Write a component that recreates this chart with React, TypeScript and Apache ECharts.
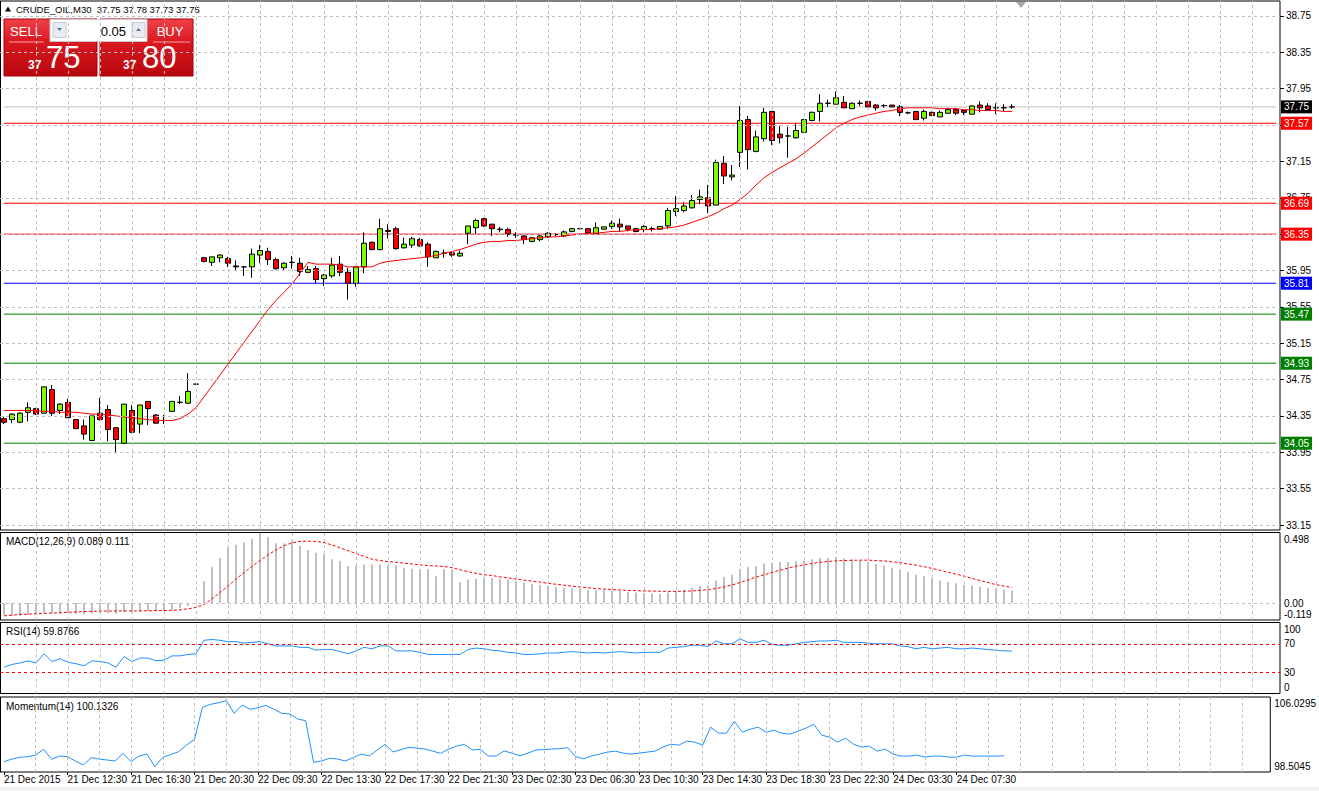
import React, { useEffect, useRef } from "react";
import * as echarts from "echarts";

const SYMBOL = "CRUDE_OIL,M30";
const LOT = "0.05";
const SELL_PRICE = 37.75;
const BUY_PRICE = 37.8;

const TICK_LABELS = [
  "21 Dec 2015", "21 Dec 12:30", "21 Dec 16:30", "21 Dec 20:30", "22 Dec 09:30", "22 Dec 13:30",
  "22 Dec 17:30", "22 Dec 21:30", "23 Dec 02:30", "23 Dec 06:30", "23 Dec 10:30", "23 Dec 14:30",
  "23 Dec 18:30", "23 Dec 22:30", "24 Dec 03:30", "24 Dec 07:30",
];

// [open, close, low, high]
const CANDLES: number[][] = [
  [34.32, 34.28, 34.26, 34.34], [34.31, 34.37, 34.27, 34.38], [34.28, 34.38, 34.27, 34.39], [34.39, 34.44, 34.29, 34.5],
  [34.43, 34.37, 34.36, 34.44], [34.38, 34.67, 34.38, 34.67], [34.64, 34.38, 34.35, 34.69], [34.41, 34.48, 34.37, 34.49],
  [34.5, 34.33, 34.33, 34.54], [34.31, 34.21, 34.21, 34.31], [34.24, 34.15, 34.09, 34.31], [34.08, 34.35, 34.08, 34.35],
  [34.38, 34.31, 34.3, 34.55], [34.42, 34.2, 34.07, 34.47], [34.22, 34.09, 33.94, 34.22], [34.05, 34.48, 34.04, 34.48],
  [34.41, 34.17, 34.16, 34.47], [34.26, 34.47, 34.16, 34.47], [34.51, 34.43, 34.25, 34.51], [34.36, 34.27, 34.27, 34.37],
  [34.3, 34.3, 34.26, 34.36], [34.4, 34.51, 34.4, 34.51], [34.5, 34.5, 34.48, 34.57], [34.49, 34.62, 34.48, 34.82],
  [34.7, 34.7, 34.7, 34.7], [36.09, 36.05, 36.04, 36.1], [36.04, 36.1, 36.0, 36.1], [36.09, 36.12, 36.04, 36.13],
  [36.08, 36.03, 35.99, 36.1], [36.0, 35.99, 35.95, 36.06], [35.99, 35.99, 35.89, 36.0], [35.99, 36.13, 35.87, 36.19],
  [36.12, 36.17, 36.03, 36.23], [36.16, 36.07, 36.01, 36.2], [36.07, 35.97, 35.96, 36.09], [35.98, 36.03, 35.95, 36.04],
  [36.04, 36.04, 35.97, 36.11], [36.03, 35.94, 35.89, 36.09], [35.93, 35.96, 35.92, 36.0], [35.97, 35.85, 35.81, 36.0],
  [35.86, 35.9, 35.78, 35.91], [35.89, 36.01, 35.87, 36.09], [36.02, 35.93, 35.89, 36.11], [35.93, 35.81, 35.63, 35.98],
  [35.81, 35.99, 35.77, 35.99], [35.99, 36.25, 35.92, 36.37], [36.26, 36.18, 36.17, 36.27], [36.18, 36.41, 36.17, 36.52],
  [36.39, 36.38, 36.3, 36.46], [36.41, 36.19, 36.18, 36.43], [36.2, 36.24, 36.19, 36.31], [36.23, 36.3, 36.2, 36.32],
  [36.29, 36.22, 36.21, 36.31], [36.24, 36.1, 35.99, 36.26], [36.09, 36.16, 36.09, 36.17], [36.14, 36.14, 36.09, 36.18],
  [36.145, 36.12, 36.1, 36.16], [36.11, 36.14, 36.1, 36.17], [36.36, 36.44, 36.24, 36.44], [36.42, 36.5, 36.35, 36.52],
  [36.52, 36.44, 36.43, 36.53], [36.46, 36.41, 36.33, 36.46], [36.405, 36.4, 36.37, 36.43], [36.4, 36.35, 36.32, 36.42],
  [36.34, 36.34, 36.31, 36.37], [36.33, 36.29, 36.24, 36.34], [36.27, 36.31, 36.26, 36.32], [36.29, 36.33, 36.27, 36.34],
  [36.32, 36.36, 36.31, 36.37], [36.345, 36.345, 36.33, 36.36], [36.33, 36.375, 36.32, 36.39], [36.38, 36.41, 36.37, 36.42],
  [36.41, 36.41, 36.41, 36.41], [36.41, 36.365, 36.36, 36.41], [36.355, 36.42, 36.35, 36.48], [36.405, 36.43, 36.4, 36.43],
  [36.435, 36.47, 36.41, 36.5], [36.46, 36.43, 36.38, 36.52], [36.44, 36.405, 36.38, 36.44], [36.41, 36.38, 36.37, 36.42],
  [36.4, 36.435, 36.37, 36.45], [36.41, 36.41, 36.38, 36.43], [36.405, 36.435, 36.4, 36.44], [36.44, 36.61, 36.41, 36.64],
  [36.6, 36.63, 36.55, 36.77], [36.61, 36.66, 36.59, 36.7], [36.64, 36.72, 36.63, 36.78], [36.73, 36.76, 36.68, 36.84],
  [36.75, 36.66, 36.58, 36.89], [36.67, 37.14, 36.67, 37.17], [37.13, 36.99, 36.9, 37.21], [36.98, 37.0, 36.94, 37.11],
  [37.25, 37.6, 37.09, 37.76], [37.61, 37.28, 37.06, 37.65], [37.26, 37.42, 37.25, 37.49], [37.4, 37.69, 37.37, 37.74],
  [37.7, 37.38, 37.33, 37.7], [37.45, 37.41, 37.35, 37.54], [37.43, 37.43, 37.19, 37.53], [37.41, 37.49, 37.4, 37.57],
  [37.47, 37.61, 37.47, 37.61], [37.6, 37.69, 37.59, 37.7], [37.7, 37.79, 37.59, 37.89], [37.79, 37.79, 37.75, 37.83],
  [37.78, 37.85, 37.78, 37.92], [37.8, 37.74, 37.74, 37.87], [37.73, 37.79, 37.73, 37.8], [37.79, 37.79, 37.76, 37.82],
  [37.81, 37.75, 37.75, 37.81], [37.77, 37.74, 37.71, 37.78], [37.765, 37.765, 37.74, 37.78], [37.77, 37.75, 37.75, 37.77],
  [37.75, 37.69, 37.65, 37.77], [37.685, 37.685, 37.67, 37.7], [37.7, 37.61, 37.61, 37.7], [37.625, 37.7, 37.6, 37.72],
  [37.69, 37.655, 37.65, 37.7], [37.64, 37.69, 37.64, 37.71], [37.68, 37.72, 37.67, 37.74], [37.72, 37.68, 37.66, 37.74],
  [37.71, 37.69, 37.66, 37.71], [37.67, 37.76, 37.67, 37.77], [37.77, 37.74, 37.69, 37.81], [37.76, 37.72, 37.71, 37.79],
  [37.74, 37.74, 37.67, 37.79], [37.74, 37.74, 37.7, 37.78], [37.75, 37.75, 37.73, 37.78],
];

const MA_VALUES = [
  34.41, 34.41, 34.41, 34.41, 34.41, 34.4, 34.4, 34.39, 34.39, 34.39,
  34.38, 34.37, 34.37, 34.36, 34.35, 34.34, 34.33, 34.32, 34.31, 34.3,
  34.3, 34.3, 34.32, 34.37, 34.44, 34.56, 34.68, 34.8, 34.92, 35.04,
  35.16, 35.28, 35.4, 35.52, 35.62, 35.71, 35.8, 35.92, 36.04, 36.02,
  36.02, 36.02, 36.01, 35.99, 35.99, 35.99, 35.99, 36.03, 36.05, 36.06,
  36.07, 36.08, 36.09, 36.1, 36.115, 36.14, 36.16, 36.18, 36.21, 36.24,
  36.26, 36.27, 36.27, 36.28, 36.28, 36.29, 36.3, 36.31, 36.32, 36.32,
  36.33, 36.34, 36.35, 36.36, 36.36, 36.37, 36.38, 36.38, 36.39, 36.4,
  36.4, 36.4, 36.41, 36.42, 36.43, 36.45, 36.48, 36.51, 36.54, 36.58,
  36.63, 36.67, 36.73, 36.8, 36.89, 36.97, 37.03, 37.08, 37.13, 37.18,
  37.24, 37.31, 37.38, 37.45, 37.52, 37.57, 37.61, 37.64, 37.66, 37.68,
  37.7, 37.71, 37.73, 37.74, 37.74, 37.74, 37.74, 37.73, 37.73, 37.73,
  37.72, 37.72, 37.71, 37.71, 37.71, 37.7, 37.7,
];

const MACD_MAIN = [
  -0.085, -0.087, -0.087, -0.083, -0.082, -0.07, -0.072, -0.072, -0.072,
  -0.075, -0.078, -0.073, -0.07, -0.07, -0.075, -0.065, -0.066,
  -0.06, -0.055, -0.055, -0.052, -0.045, -0.035, -0.02, -0.005,
  0.155, 0.254, 0.32, 0.392, 0.411, 0.428, 0.452, 0.495, 0.464, 0.423,
  0.42, 0.44, 0.404, 0.375, 0.356, 0.345, 0.309, 0.297, 0.261, 0.261,
  0.273, 0.273, 0.273, 0.266, 0.266, 0.249, 0.242, 0.238, 0.238, 0.19,
  0.238, 0.233, 0.147, 0.166, 0.171, 0.178, 0.178, 0.171,
  0.165, 0.155, 0.145, 0.135, 0.128, 0.12, 0.112, 0.108, 0.104, 0.1, 0.095, 0.092,
  0.09, 0.088, 0.085, 0.08, 0.075, 0.072, 0.068, 0.065, 0.075, 0.085, 0.095, 0.108,
  0.12, 0.125, 0.16, 0.185, 0.2, 0.24, 0.255, 0.26, 0.28, 0.285, 0.29, 0.29,
  0.295, 0.3, 0.31, 0.32, 0.32, 0.325, 0.315, 0.31, 0.3, 0.29, 0.275, 0.265,
  0.25, 0.235, 0.22, 0.2, 0.19, 0.175, 0.16, 0.15, 0.14, 0.13, 0.125, 0.115,
  0.108, 0.1, 0.095, 0.089,
];

const MACD_SIGNAL = [
  -0.09, -0.085, -0.08, -0.078, -0.075, -0.072, -0.07, -0.068, -0.065, -0.062,
  -0.06, -0.058, -0.057, -0.056, -0.055, -0.055, -0.055, -0.055, -0.054, -0.053,
  -0.052, -0.05, -0.047, -0.04, -0.03, -0.01, 0.03, 0.075, 0.12, 0.17,
  0.215, 0.26, 0.3, 0.34, 0.375, 0.405, 0.425, 0.435, 0.437, 0.435,
  0.427, 0.41, 0.39, 0.37, 0.35, 0.33, 0.31, 0.3, 0.293, 0.288,
  0.282, 0.276, 0.27, 0.265, 0.262, 0.258, 0.25, 0.235, 0.222, 0.21,
  0.2, 0.195, 0.185, 0.178, 0.17, 0.162, 0.155, 0.148, 0.14, 0.133,
  0.126, 0.12, 0.114, 0.108, 0.103, 0.099, 0.096, 0.093, 0.09, 0.088,
  0.086, 0.085, 0.084, 0.083, 0.083, 0.084, 0.086, 0.09, 0.095, 0.103,
  0.114, 0.128, 0.145, 0.163, 0.183, 0.2, 0.217, 0.232, 0.247, 0.26,
  0.27, 0.28, 0.288, 0.294, 0.298, 0.3, 0.302, 0.303, 0.303, 0.3,
  0.297, 0.292, 0.285, 0.277, 0.268, 0.257, 0.245, 0.232, 0.218, 0.205,
  0.19, 0.175, 0.16, 0.145, 0.13, 0.12, 0.111,
];

const RSI_VALUES = [
  37, 41, 43, 46, 43, 56, 45, 49, 44, 42,
  39, 46, 45, 43, 37, 52, 45, 50, 50, 46,
  47, 53, 53, 55, 56, 75, 76, 75, 73, 73,
  71, 72, 73, 70, 67, 67, 67, 65, 65, 61,
  62, 62, 59, 56, 60, 65, 63, 67, 67, 60,
  60, 60, 58, 55, 55, 55, 55, 55, 62, 64,
  63, 61, 60, 58, 57, 55, 55, 56, 57, 57,
  58, 59, 58, 57, 58, 57, 58, 59, 58, 57,
  58, 58, 58, 64, 65, 66, 68, 68, 66, 74,
  70, 70, 77, 72, 72, 75, 69, 68, 68, 70,
  72, 73, 74, 74, 75, 72, 72, 72, 71, 70,
  70, 70, 67, 66, 63, 65, 63, 64, 65, 63,
  63, 64, 63, 62, 61, 60, 59.8766,
];

const MOMENTUM_VALUES = [
  99.54, 99.8, 99.98, 100.04, 100.21, 100.78, 99.78, 100.11, 100.04, 99.6,
  99.21, 99.94, 99.8, 99.71, 99.61, 100.38, 99.54, 100.11, 100.31, 99.04,
  99.98, 100.25, 100.54, 101.21, 101.78, 104.99, 105.29, 105.45, 105.66, 104.39,
  105.23, 104.79, 104.95, 105.19, 104.8, 104.39, 104.32, 103.82, 103.65, 99.48,
  99.61, 99.88, 99.81, 99.61, 99.95, 100.31, 100.11, 100.7, 101.28, 100.51,
  100.75, 100.98, 100.9, 100.81, 100.6, 100.38, 100.8, 101.1, 101.28, 100.71,
  100.78, 100.11, 100.11, 100.61, 100.4, 100.14, 100.4, 100.71, 100.75, 100.8,
  100.85, 100.94, 100.04, 99.84, 100.11, 100.3, 100.5, 100.6, 100.4, 100.3,
  100.4, 100.5, 100.6, 101.0, 101.3, 101.2, 101.6, 101.5, 101.2, 103.0,
  102.4, 102.4, 103.6, 102.5, 102.8, 103.0, 102.5, 102.7, 102.4, 102.3,
  102.6, 102.9, 103.3, 102.2, 102.0, 101.5, 101.9, 101.3, 101.0, 101.1,
  100.6, 100.8, 100.3, 100.1, 100.1, 100.2, 100.0, 100.1, 100.1, 100.0,
  100.0, 100.2, 100.1, 100.1, 100.1, 100.1, 100.1326,
];

const PRICE_TICKS = [38.75, 38.35, 37.95, 37.55, 37.15, 36.75, 36.35, 35.95, 35.55, 35.15, 34.75, 34.35, 33.95, 33.55, 33.15];
const RESISTANCE_LEVELS = [37.57, 36.69, 36.35];
const PIVOT_LEVELS = [35.81];
const SUPPORT_LEVELS = [35.47, 34.93, 34.05];
const MACD_TICKS = [0.498, 0, -0.119];
const RSI_TICKS = [100, 70, 30, 0];
const RSI_LEVELS = [70, 30];
const MOMENTUM_TICKS = [106.0295, 98.5045];

const SLOT_COUNT = 160;
const CATEGORIES = Array.from({ length: SLOT_COUNT }, (_, i) => String(i));

const FONT = "'Liberation Sans', Arial, sans-serif";
const GRID_GREY = "#C0C0C0";
const PANELS = [
  { top: 1, height: 529 },
  { top: 532.5, height: 87.5 },
  { top: 622.5, height: 71 },
  { top: 697, height: 75 },
];

function edgeFormatter(min: number, max: number, fmt: (v: number) => string) {
  return (v: number) => {
    if (Math.abs(v - max) < 1e-9) return `{top|${fmt(v)}}`;
    if (Math.abs(v - min) < 1e-9) return `{bot|${fmt(v)}}`;
    return `{mid|${fmt(v)}}`;
  };
}
const baseRich = { fontSize: 10, fontFamily: FONT, color: "#000" };
const edgeRich = {
  top: { ...baseRich, padding: [13, 0, 0, 0] },
  bot: { ...baseRich, padding: [0, 0, 12, 0] },
  mid: { ...baseRich },
};

export default function App() {
  const ref = useRef<HTMLDivElement>(null);

  useEffect(() => {
    if (!ref.current) return;
    const chart = echarts.init(ref.current, undefined, { renderer: "svg" });
    const last = CANDLES.length - 1;
    const lastBar = CANDLES[last];
    const bid = lastBar[1];
    const nulls = CATEGORIES.map(() => null);
    const vLines = CATEGORIES.map((_, i) => i).filter((i) => i > 0 && i % 4 === 0).map((i) => ({ xAxis: i }));

    const helper = (idx: number, z: number, items: any[], label: any = { show: false }, lineStyle: any = { color: GRID_GREY, type: [3, 3], width: 1 }) => ({
      type: "line",
      xAxisIndex: idx,
      yAxisIndex: idx,
      data: nulls,
      z,
      silent: true,
      symbol: "none",
      lineStyle: { opacity: 0 },
      markLine: {
        silent: true,
        symbol: ["none", "none"],
        animation: false,
        label,
        lineStyle,
        data: items,
      },
    });

    // a horizontal level drawn as a line series through the price axis
    const levelSeries = (v: number, color: string) => ({
      type: "line",
      xAxisIndex: 0,
      yAxisIndex: 0,
      data: CATEGORIES.map(() => v),
      z: 1.5,
      silent: true,
      symbol: "none",
      lineStyle: { color, width: 1 },
    });

    const tag = (v: number, color: string) => ({
      yAxis: v,
      label: { backgroundColor: color },
    });
    const levelDefs: [number, string][] = [
      [bid, "#000000"],
      ...RESISTANCE_LEVELS.map((v) => [v, "#FF0000"] as [number, string]),
      ...PIVOT_LEVELS.map((v) => [v, "#0000FF"] as [number, string]),
      ...SUPPORT_LEVELS.map((v) => [v, "#008000"] as [number, string]),
    ];
    const tags = levelDefs.map(([v, c]) => tag(v, c));
    const tagLabel = {
      show: true,
      position: "end",
      distance: 1,
      color: "#fff",
      fontSize: 10,
      fontFamily: FONT,
      padding: [2, 3, 1, 3],
      formatter: (p: any) => Number(p.value).toFixed(2),
    };

    const xAxes = PANELS.map((_, i) => ({
      type: "category",
      gridIndex: i,
      data: CATEGORIES,
      boundaryGap: true,
      axisLine: { show: false },
      axisTick: {
        show: i === 3,
        alignWithLabel: true,
        interval: (idx: number) => idx % 8 === 0 && idx / 8 < TICK_LABELS.length,
        length: 3,
        lineStyle: { color: "#000" },
      },
      axisLabel: {
        show: i === 3,
        interval: (idx: number) => idx % 8 === 0 && idx / 8 < TICK_LABELS.length,
        formatter: (_v: string, idx: number) => TICK_LABELS[idx / 8] ?? "",
        align: "left",
        margin: 2,
        fontSize: 10,
        fontFamily: FONT,
        color: "#000",
      },
      splitLine: { show: false },
    }));

    const yAxes = [
      {
        type: "value",
        gridIndex: 0,
        position: "right",
        min: 33.095,
        max: 38.915,
        axisLine: { show: false },
        axisTick: { show: true, customValues: PRICE_TICKS, length: 4, lineStyle: { color: "#000" } },
        axisLabel: {
          customValues: PRICE_TICKS,
          formatter: (v: number) => v.toFixed(2),
          margin: 6,
          fontSize: 10,
          fontFamily: FONT,
          color: "#000",
        },
        splitLine: { show: false },
      },
      {
        type: "value",
        gridIndex: 1,
        position: "right",
        min: -0.119,
        max: 0.498,
        axisLine: { show: false },
        axisTick: { show: false },
        axisLabel: {
          customValues: MACD_TICKS,
          formatter: edgeFormatter(-0.119, 0.498, (v) => (v === 0 ? "0.00" : v.toFixed(3))),
          rich: edgeRich,
          margin: 4,
        },
        splitLine: { show: false },
      },
      {
        type: "value",
        gridIndex: 2,
        position: "right",
        min: 0,
        max: 100,
        axisLine: { show: false },
        axisTick: { show: false },
        axisLabel: {
          customValues: RSI_TICKS,
          formatter: edgeFormatter(0, 100, (v) => String(v)),
          rich: edgeRich,
          margin: 4,
        },
        splitLine: { show: false },
      },
      {
        type: "value",
        gridIndex: 3,
        position: "right",
        min: 98.5045,
        max: 106.0295,
        axisLine: { show: false },
        axisTick: { show: false },
        axisLabel: {
          customValues: MOMENTUM_TICKS,
          formatter: edgeFormatter(98.5045, 106.0295, (v) => v.toFixed(4)),
          rich: edgeRich,
          margin: 4,
        },
        splitLine: { show: false },
      },
    ];

    const sellInt = String(Math.floor(SELL_PRICE));
    const sellFrac = SELL_PRICE.toFixed(2).slice(-2);
    const buyInt = String(Math.floor(BUY_PRICE));
    const buyFrac = BUY_PRICE.toFixed(2).slice(-2);
    const header = `${SYMBOL}  ${lastBar[0].toFixed(2)} ${lastBar[3].toFixed(2)} ${lastBar[2].toFixed(2)} ${lastBar[1].toFixed(2)}`;
    const redGrad = () =>
      new echarts.graphic.LinearGradient(0, 0, 0, 1, [
        { offset: 0, color: "#F0424A" },
        { offset: 0.4, color: "#DA1820" },
        { offset: 1, color: "#B8060C" },
      ]);
    const txt = (x: number, y: number, text: string, font: string, fill: string, align = "left") => ({
      type: "text",
      x,
      y,
      silent: true,
      style: { text, font, fill, textAlign: align, align, textVerticalAlign: "middle", verticalAlign: "middle" },
    });

    const graphics: any[] = [
      ...PANELS.map((p) => ({
        type: "line",
        silent: true,
        shape: { x1: 0.5, y1: p.top, x2: 0.5, y2: p.top + p.height },
        style: { stroke: "#000", lineWidth: 1 },
      })),
      { type: "rect", silent: true, shape: { x: 0, y: 787, width: 1319, height: 4 }, style: { fill: "#F0F0F0" } },
      { type: "polygon", silent: true, shape: { points: [[1016, 2], [1026, 2], [1021, 8]] }, style: { fill: "#A8A8A8" } },
      { type: "polygon", silent: true, shape: { points: [[5, 11.5], [11, 11.5], [8, 6.5]] }, style: { fill: "#000" } },
      txt(16, 9.5, header, `9.5px ${FONT}`, "#000"),
      // SELL / BUY widget
      { type: "rect", silent: true, shape: { x: 4, y: 19, width: 93, height: 57 }, style: { fill: redGrad(), stroke: "#A80008", lineWidth: 1 } },
      { type: "rect", silent: true, shape: { x: 100, y: 19, width: 93, height: 57 }, style: { fill: redGrad(), stroke: "#A80008", lineWidth: 1 } },
      { type: "line", silent: true, shape: { x1: 9, y1: 42, x2: 44, y2: 42 }, style: { stroke: "#F4A0A4", lineWidth: 1 } },
      { type: "line", silent: true, shape: { x1: 153, y1: 42, x2: 190, y2: 42 }, style: { stroke: "#F4A0A4", lineWidth: 1 } },
      { type: "rect", silent: true, shape: { x: 50, y: 19.5, width: 97, height: 22 }, style: { fill: "#fff", stroke: "#C8C8C8", lineWidth: 1 } },
      { type: "rect", silent: true, shape: { x: 53, y: 22.5, width: 13, height: 15 }, style: { fill: "#E8ECF2", stroke: "#C8CCD4", lineWidth: 1 } },
      { type: "rect", silent: true, shape: { x: 132, y: 22.5, width: 13, height: 15 }, style: { fill: "#E8ECF2", stroke: "#C8CCD4", lineWidth: 1 } },
      { type: "polygon", silent: true, shape: { points: [[57, 28], [62, 28], [59.5, 31]] }, style: { fill: "#5A6E96" } },
      { type: "polygon", silent: true, shape: { points: [[136, 31], [141, 31], [138.5, 28]] }, style: { fill: "#5A6E96" } },
      txt(126, 31, LOT, `13px ${FONT}`, "#000", "right"),
      txt(26, 31, "SELL", `13px ${FONT}`, "#fff", "center"),
      txt(170, 31, "BUY", `13px ${FONT}`, "#fff", "center"),
      txt(28, 64.5, sellInt, `bold 12px ${FONT}`, "#fff"),
      txt(46, 57.5, sellFrac, `31px ${FONT}`, "#fff"),
      txt(123, 64.5, buyInt, `bold 12px ${FONT}`, "#fff"),
      txt(142, 57.5, buyFrac, `31px ${FONT}`, "#fff"),
      // indicator captions
      txt(6, 541, `MACD(12,26,9) ${MACD_MAIN[last].toFixed(3)} ${MACD_SIGNAL[last].toFixed(3)}`, `10px ${FONT}`, "#000"),
      txt(6, 631, `RSI(14) ${RSI_VALUES[last].toFixed(4)}`, `10px ${FONT}`, "#000"),
      txt(6, 706, `Momentum(14) ${MOMENTUM_VALUES[last].toFixed(4)}`, `10px ${FONT}`, "#000"),
    ];

    chart.setOption({
      animation: false,
      backgroundColor: "#fff",
      grid: PANELS.map((p) => ({
        left: -1.5,
        width: 1281.5,
        top: p.top,
        height: p.height,
        show: true,
        borderColor: "#000",
        borderWidth: 1,
        backgroundColor: "#fff",
      })),
      xAxis: xAxes,
      yAxis: yAxes,
      graphic: graphics,
      series: [
        helper(0, 1, [...vLines, ...PRICE_TICKS.map((v) => ({ yAxis: v }))]),
        levelSeries(bid, GRID_GREY),
        ...RESISTANCE_LEVELS.map((v) => levelSeries(v, "#FF0000")),
        ...PIVOT_LEVELS.map((v) => levelSeries(v, "#0000FF")),
        ...SUPPORT_LEVELS.map((v) => levelSeries(v, "#008000")),
        {
          type: "candlestick",
          xAxisIndex: 0,
          yAxisIndex: 0,
          data: CANDLES.map(([o, c, l, h]) => [o, c, l, h]),
          barWidth: 5,
          z: 2,
          silent: true,
          itemStyle: {
            color: "#7CFC00",
            color0: "#FF0000",
            borderColor: "#000",
            borderColor0: "#000",
            borderColorDoji: "#000",
            borderWidth: 1,
          },
        },
        {
          type: "line",
          xAxisIndex: 0,
          yAxisIndex: 0,
          data: MA_VALUES,
          symbol: "none",
          z: 3,
          silent: true,
          lineStyle: { color: "#FF0000", width: 1 },
        },
        helper(0, 4, tags, tagLabel, { color: "rgba(0,0,0,0)", width: 1 }),
        helper(1, 1, [...vLines, { yAxis: 0 }]),
        {
          type: "bar",
          xAxisIndex: 1,
          yAxisIndex: 1,
          data: MACD_MAIN,
          barWidth: 2,
          z: 2,
          silent: true,
          itemStyle: { color: GRID_GREY },
        },
        {
          type: "line",
          xAxisIndex: 1,
          yAxisIndex: 1,
          data: MACD_SIGNAL,
          symbol: "none",
          z: 3,
          silent: true,
          lineStyle: { color: "#FF0000", width: 1, type: [3, 2] },
        },
        helper(2, 1, [...vLines, ...RSI_LEVELS.map((v) => ({ yAxis: v, lineStyle: { color: "#FF0000", type: [3, 3] } }))]),
        {
          type: "line",
          xAxisIndex: 2,
          yAxisIndex: 2,
          data: RSI_VALUES,
          symbol: "none",
          z: 3,
          silent: true,
          lineStyle: { color: "#1E90FF", width: 1 },
        },
        helper(3, 1, vLines),
        {
          type: "line",
          xAxisIndex: 3,
          yAxisIndex: 3,
          data: MOMENTUM_VALUES,
          symbol: "none",
          z: 3,
          silent: true,
          lineStyle: { color: "#1E90FF", width: 1 },
        },
      ],
    });

    return () => chart.dispose();
  }, []);

  return (
    <div
      ref={ref}
      style={{ position: "fixed", left: 0, top: 0, width: 1319, height: 791, background: "#fff" }}
    />
  );
}
